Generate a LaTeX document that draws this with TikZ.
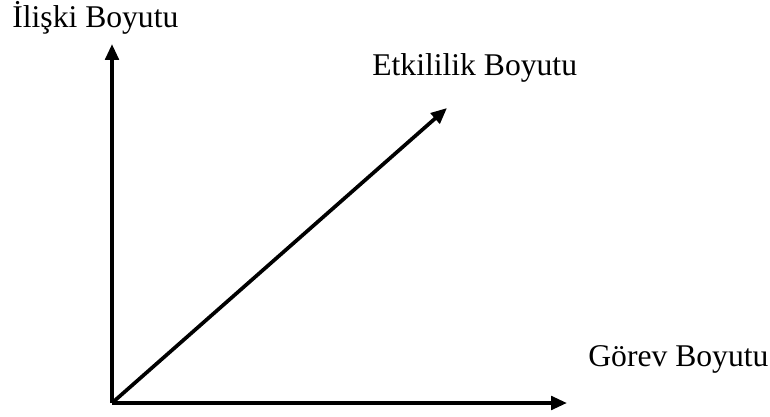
\documentclass[tikz,border=0pt]{standalone}
\usepackage{fontspec}
\setmainfont{Liberation Serif}
\usetikzlibrary{arrows.meta}

\begin{document}
\begin{tikzpicture}[x=0.02cm,y=0.02cm,
    axis/.style={line width=2.1pt,-{Triangle[length=0.32cm,width=0.27cm]}},
    lbl/.style={anchor=base west,inner sep=0pt,font=\fontsize{18}{20}\selectfont}]
  \useasboundingbox (0,0) rectangle (770,416);
  \coordinate (o) at (112,13);
  \coordinate (gtip) at (567,13);
  \coordinate (itip) at (112,372);
  \coordinate (etip) at (447,308);
  \draw[axis] (o) -- (gtip);
  \draw[axis] (o) -- (itip);
  \draw[axis] (o) -- (etip);
  \node[lbl] (iliski) at (12,388) {İlişki Boyutu};
  \node[lbl] (etki) at (372,340) {Etkililik Boyutu};
  \node[lbl] (gorev) at (588,50) {Görev Boyutu};
\end{tikzpicture}
\end{document}
